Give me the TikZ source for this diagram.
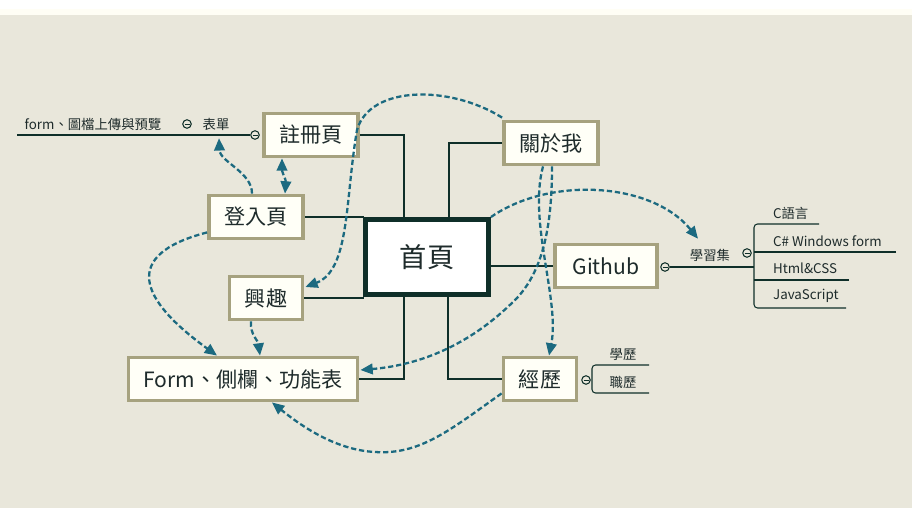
\documentclass[tikz,border=0pt]{standalone}
\usepackage{fontspec}
\setmainfont{Noto Sans CJK TC}
\usepackage{xcolor}
\usepackage{tikz}
\usetikzlibrary{calc}
\usetikzlibrary{arrows.meta}

\definecolor{paper}{HTML}{E9E7DB}
\definecolor{khaki}{HTML}{A6A27F}
\definecolor{pine}{HTML}{0F2F29}
\definecolor{linkblue}{HTML}{1C6A80}
\definecolor{ink}{HTML}{1E2B2B}

\begin{document}
\begin{tikzpicture}[x=0.02cm, y=-0.02cm,
  topic/.style = {draw=khaki, line width=2.2pt, fill=white!97!yellow, text=ink,
    inner sep=0pt, minimum height=0.86cm, font=\fontsize{12}{14}\selectfont},
  root/.style = {draw=pine, line width=2.8pt, fill=white, text=ink,
    inner sep=0pt, minimum width=2.46cm, minimum height=1.5cm,
    font=\fontsize{15.5}{18}\selectfont},
  leaf/.style = {text=ink, inner sep=1pt, font=\fontsize{7.6}{9}\selectfont},
  knob/.style = {circle, draw=pine, line width=0.6pt, fill=paper, inner sep=0pt,
    minimum size=0.17cm,
    path picture={\draw[line width=0.5pt]
      ($(path picture bounding box.center)+(-2.5,0)$) --
      ($(path picture bounding box.center)+(2.5,0)$);}},
  branch/.style = {draw=pine, line width=1.1pt},
  twig/.style = {draw=pine, line width=0.6pt},
  tip/.style = {Triangle[length=7pt,width=6pt]},
  link/.style = {draw=linkblue, line width=1.3pt, dash pattern=on 3pt off 1.6pt,
    -{Triangle[length=7pt,width=6pt]}}]

% page
  \useasboundingbox (0,0) rectangle (912,523);
  \fill[white!96!yellow] (0,9) rectangle (912,15);
  \fill[paper] (0,15) rectangle (912,508);

% topics
  \node[root] (home) at (427,257) {首頁};
  \node[topic, minimum width=1.88cm] (signup) at (311,135) {註冊頁};
  \node[topic, minimum width=1.88cm] (login) at (256,217) {登入頁};
  \node[topic, minimum width=1.88cm] (about) at (551,143) {關於我};
  \node[topic, minimum width=2.04cm] (github) at (606,266) {Github};
  \node[topic, minimum width=1.46cm] (hobby) at (266,298) {興趣};
  \node[topic, minimum width=4.58cm] (form) at (243,379) {Form、側欄、功能表};
  \node[topic, minimum width=1.46cm] (exp) at (540,379) {經歷};

% branches
  \draw[branch] (signup.east) -| ($(home.north west)+(41,0)$);
  \draw[branch] (about.west) -| ($(home.north west)+(86,0)$);
  \draw[branch] (login.east) -| (home.north west);
  \draw[branch] (hobby.east) -| (home.south west);
  \draw[branch] (github.west) -- (github.west -| home.east);
  \draw[branch] ($(home.south west)+(41,0)$) |- (form.east);
  \draw[branch] ($(home.south west)+(85,0)$) |- (exp.west);

% signup subtopics
  \node[knob] (signupknob) at (255,135) {};
  \coordinate (signuptail) at (17,135);
  \draw[twig] (signupknob.west) -- (signuptail);
  \node[leaf] (sheet) at (216,124) {表單};
  \node[knob] (sheetknob) at (187,124) {};
  \node[leaf] (upload) at (93,124) {form、圖檔上傳與預覽};

% github subtopics
  \node[knob] (githubknob) at (665,267) {};
  \coordinate (learnfork) at (754,267);
  \draw[twig] (githubknob.east) -- (learnfork);
  \node[leaf] (learn) at (710,255) {學習集};
  \node[knob] (learnknob) at (747,253) {};
  \node[leaf, anchor=west] (clang) at (771,213) {C語言};
  \node[leaf, anchor=west] (csharp) at (771,241) {C\# Windows form};
  \node[leaf, anchor=west] (html) at (771,268) {Html\&CSS};
  \node[leaf, anchor=west] (jscript) at (771,296) {JavaScript};
  \coordinate (forktop) at (754,224);
  \coordinate (forkbot) at (754,308);
  \coordinate (clangend) at (819,224);
  \coordinate (csharpend) at (896,252);
  \coordinate (htmlend) at (849,280);
  \coordinate (jscriptend) at (846,308);
  \draw[twig, rounded corners=2pt] (clangend) -- (forktop) -- (forkbot) -- (jscriptend);
  \draw[twig] (csharpend) -- (csharpend -| forktop);
  \draw[twig] (htmlend) -- (htmlend -| forktop);

% experience subtopics
  \node[knob] (expknob) at (586,380) {};
  \node[leaf] (school) at (623,354) {學歷};
  \node[leaf] (work) at (623,382) {職歷};
  \coordinate (exptop) at (592,365);
  \coordinate (expbot) at (592,393);
  \coordinate (schoolend) at (649,365);
  \coordinate (workend) at (649,393);
  \draw[twig, rounded corners=2pt] (schoolend) -- (exptop) -- (expbot) -- (workend);

% links
  \draw[link] ($(login.north)+(-4,0)$) .. controls (252,172) and (220,162) .. ($(sheet.south)+(3,6)$);
  \draw[link, {Triangle[length=7pt,width=6pt]}-{Triangle[length=7pt,width=6pt]}]
    ($(signup.south)+(-29,0)$) .. controls (282,172) and (286,180) .. ($(login.north)+(29,0)$);
  \draw[link] ($(about.north west)+(0,-2)$) .. controls (450,85) and (370,85) .. (357,130)
    .. controls (345,200) and (350,270) .. ($(hobby.east)+(1,-11)$);
  \draw[link] ($(about.south)+(-8,0)$) .. controls (528,222) and (560,300) .. ($(exp.north)+(9,0)$);
  \draw[link] ($(about.south)+(1,0)$) .. controls (552,220) and (545,270) .. (515,300)
    .. controls (470,345) and (420,365) .. ($(form.east)+(1,-9)$);
  \draw[link] (home.north east) .. controls (550,176) and (652,182) .. ($(learn.north)+(-12,-8)$);
  \draw[link] ($(login.south west)+(0,-8)$) .. controls (120,255) and (140,300) .. ($(form.north)+(-26,0)$);
  \draw[link] ($(hobby.south)+(-15,0)$) .. controls (250,335) and (258,340) .. ($(form.north)+(17,0)$);
  \draw[link] ($(exp.south west)+(0,-9)$) .. controls (450,430) and (420,455) .. (375,452)
    .. controls (335,450) and (300,425) .. ($(form.south)+(29,0)$);

\end{tikzpicture}
\end{document}
